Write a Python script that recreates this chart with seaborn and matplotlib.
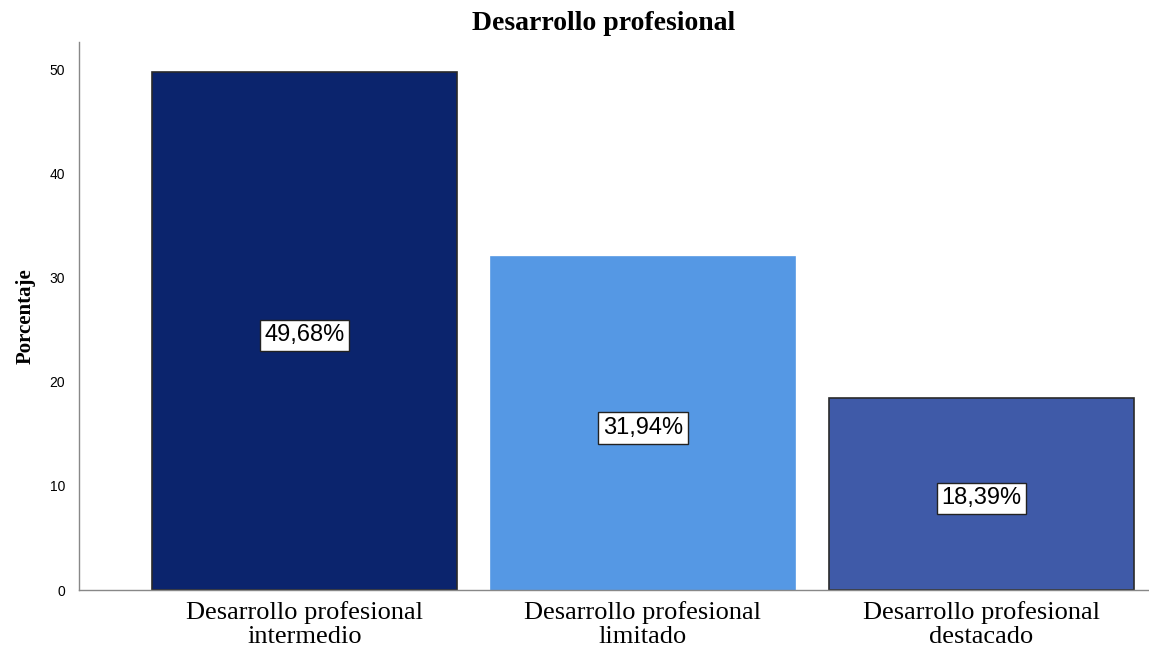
import matplotlib
matplotlib.use("Agg")
import matplotlib.pyplot as plt
import seaborn as sns
import pandas as pd

categories = ["Desarrollo profesional\nintermedio",
              "Desarrollo profesional\nlimitado",
              "Desarrollo profesional\ndestacado"]
values = [49.68, 31.94, 18.39]
value_labels = ["49,68%", "31,94%", "18,39%"]
colors = ["#0b246d", "#5598e4", "#3f5aa8"]
edges = ["#2a2a2a", "#5598e4", "#2a2a2a"]
yticks = [0, 10, 20, 30, 40, 50]

sns.set_theme(style="white")
plt.rcParams["font.family"] = ["Liberation Sans", "DejaVu Sans"]
plt.rcParams["text.color"] = "black"

df = pd.DataFrame({"cat": categories, "val": values})
fig = plt.figure(figsize=(11.49, 6.51), dpi=100)
ax = fig.add_axes([79/1149, 1-590/651, (1149-79)/1149, (590-42)/651])

sns.barplot(data=df, x="cat", y="val", hue="cat", palette=colors, width=0.9,
            legend=False, ax=ax, saturation=1)
for patch, ec in zip(ax.patches, edges):
    patch.set_edgecolor(ec)
    patch.set_linewidth(1.2)

for i, (v, lab) in enumerate(zip(values, value_labels)):
    ax.text(i, v/2 - 0.4, lab, ha="center", va="center", fontsize=17, color="black",
            family=["Liberation Sans"],
            bbox=dict(boxstyle="square,pad=0.2", fc="white", ec="#222222", lw=1))

ax.set_xlim(-0.666, 2.495)
ax.set_ylim(0, 52.6)
ax.set_yticks(yticks)
ax.set_yticklabels([str(t) for t in yticks], fontsize=10, color="black")
ax.tick_params(axis="y", length=0, pad=10)
ax.tick_params(axis="x", length=0, pad=8)
for lab in ax.get_xticklabels():
    lab.set_family(["Liberation Serif"])
    lab.set_fontsize(19)
    lab.set_color("black")
    lab.set_linespacing(1.1)
ax.set_xlabel("")
ax.set_ylabel("Porcentaje", family=["Liberation Serif"], fontweight="bold",
              fontsize=15, labelpad=10, color="black")
sns.despine(ax=ax, top=True, right=True)
ax.spines["left"].set_color("#888888")
ax.spines["bottom"].set_color("#888888")
ax.spines["left"].set_linewidth(1)
ax.spines["bottom"].set_linewidth(1)
fig.text(604/1149, 1-24/651, "Desarrollo profesional", ha="center",
         va="center", family=["Liberation Serif"], fontweight="bold", fontsize=20,
         color="black")

fig.savefig("out.png", dpi=100)
